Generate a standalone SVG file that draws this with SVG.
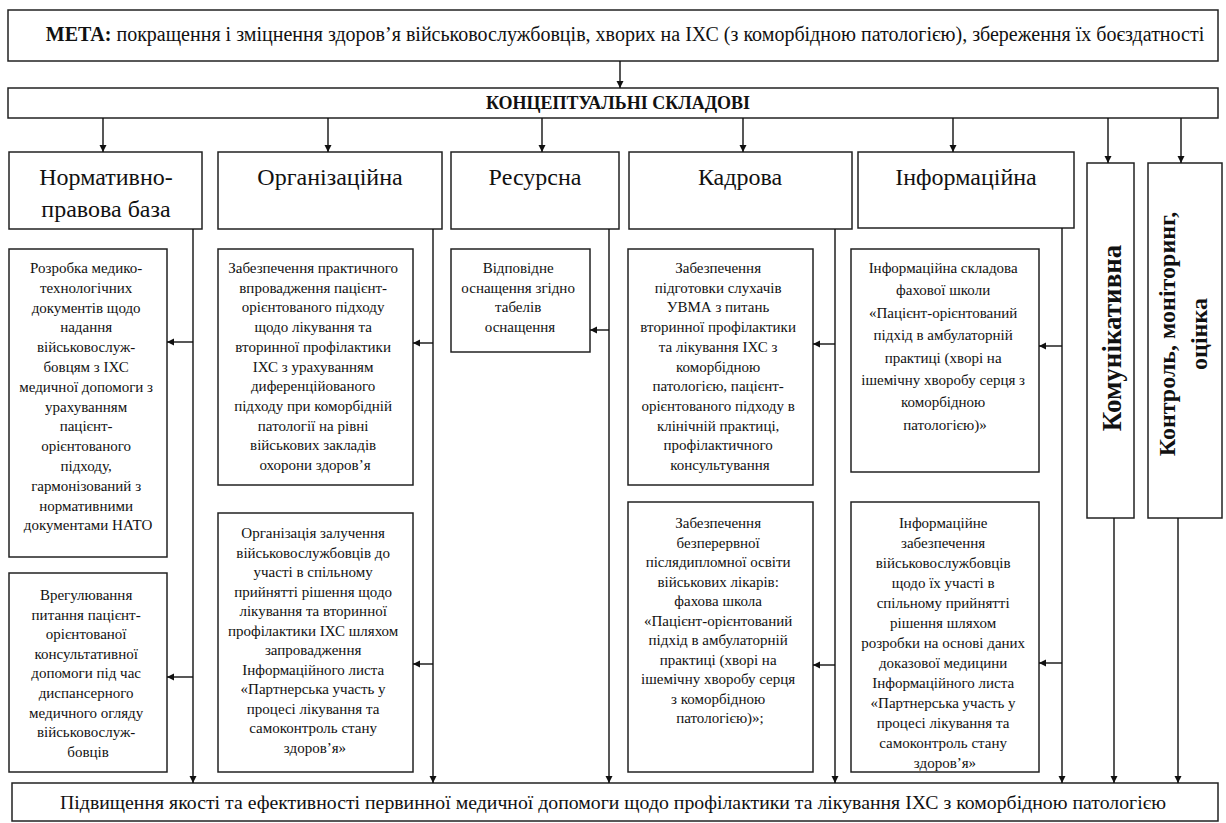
<svg xmlns="http://www.w3.org/2000/svg" width="1226" height="823" viewBox="0 0 1226 823" font-family="'Liberation Serif', 'DejaVu Serif', serif">
  <style>
    .box { fill: #ffffff; stroke: #222222; stroke-width: 1.5; }
    .link { fill: none; stroke: #111111; stroke-width: 1.4; marker-end: url(#arrow); }
    text { font-family: 'Liberation Serif', 'DejaVu Serif', serif; fill: #111111; }
    .goal { font-size: 20px; }
    .hdr { font-size: 18px; font-weight: bold; }
    .cat { font-size: 24px; }
    .vcat { font-size: 24px; font-weight: bold; }
    .vcat-lg { font-size: 27px; font-weight: bold; }
    .sub { font-size: 15px; }
    .res { font-size: 19.8px; }
  </style>
  <defs>
    <marker id="arrow" viewBox="0 0 10 10" refX="10" refY="5" markerWidth="7" markerHeight="8" markerUnits="userSpaceOnUse" orient="auto">
      <path d="M0,0 L10,5 L0,10 z" fill="#111111"/>
    </marker>
  </defs>

  <rect width="1226" height="823" fill="#ffffff"/>

  <!-- goal -->
  <g id="goal">
    <rect class="box" x="8" y="10" width="1210" height="51"/>
    <text class="goal" x="625" y="41" text-anchor="middle"><tspan font-weight="bold">МЕТА:</tspan> покращення і зміцнення здоров’я військовослужбовців, хворих на ІХС (з коморбідною патологією), збереження їх боєздатності</text>
  </g>

  <!-- conceptual components header -->
  <g id="components">
    <rect class="box" x="8" y="88" width="1210" height="30"/>
    <text class="hdr" x="618" y="109" text-anchor="middle">КОНЦЕПТУАЛЬНІ СКЛАДОВІ</text>
  </g>

  <!-- component categories -->
  <g id="cat-normative">
    <rect class="box" x="9" y="152" width="193" height="77"/>
    <text class="cat" text-anchor="middle"><tspan x="106" y="185">Нормативно-</tspan><tspan x="106" y="217">правова база</tspan></text>
  </g>
  <g id="cat-organizational">
    <rect class="box" x="218" y="152" width="224" height="77"/>
    <text class="cat" x="330" y="185" text-anchor="middle">Організаційна</text>
  </g>
  <g id="cat-resource">
    <rect class="box" x="451" y="152" width="168" height="77"/>
    <text class="cat" x="535" y="185" text-anchor="middle">Ресурсна</text>
  </g>
  <g id="cat-staff">
    <rect class="box" x="629" y="152" width="223" height="77"/>
    <text class="cat" x="740" y="185" text-anchor="middle">Кадрова</text>
  </g>
  <g id="cat-information">
    <rect class="box" x="858" y="152" width="216" height="76"/>
    <text class="cat" x="966" y="185" text-anchor="middle">Інформаційна</text>
  </g>
  <g id="cat-communication">
    <rect class="box" x="1087" y="163" width="47" height="355"/>
    <text class="vcat-lg" transform="translate(1121,338) rotate(-90)" text-anchor="middle">Комунікативна</text>
  </g>
  <g id="cat-control">
    <rect class="box" x="1148" y="163" width="74" height="355"/>
    <text class="vcat" transform="translate(1175,334) rotate(-90)" text-anchor="middle">Контроль, моніторинг,</text>
    <text class="vcat" transform="translate(1207,334) rotate(-90)" text-anchor="middle">оцінка</text>
  </g>

  <!-- activities -->
  <g id="normative-1">
    <rect class="box" x="9" y="249" width="158" height="308"/>
    <text class="sub" text-anchor="middle">
      <tspan x="88" y="273">Розробка медико-</tspan>
      <tspan x="88" dy="19.8">технологічних</tspan>
      <tspan x="88" dy="19.8">документів щодо</tspan>
      <tspan x="88" dy="19.8">надання</tspan>
      <tspan x="88" dy="19.8">військовослуж-</tspan>
      <tspan x="88" dy="19.8">бовцям з ІХС</tspan>
      <tspan x="88" dy="19.8">медичної допомоги з</tspan>
      <tspan x="88" dy="19.8">урахуванням</tspan>
      <tspan x="88" dy="19.8">пацієнт-</tspan>
      <tspan x="88" dy="19.8">орієнтованого</tspan>
      <tspan x="88" dy="19.8">підходу,</tspan>
      <tspan x="88" dy="19.8">гармонізований з</tspan>
      <tspan x="88" dy="19.8">нормативними</tspan>
      <tspan x="88" dy="19.8">документами НАТО</tspan>
    </text>
  </g>
  <g id="normative-2">
    <rect class="box" x="9" y="573" width="158" height="199"/>
    <text class="sub" text-anchor="middle">
      <tspan x="88" y="600">Врегулювання</tspan>
      <tspan x="88" dy="19.6">питання пацієнт-</tspan>
      <tspan x="88" dy="19.6">орієнтованої</tspan>
      <tspan x="88" dy="19.6">консультативної</tspan>
      <tspan x="88" dy="19.6">допомоги під час</tspan>
      <tspan x="88" dy="19.6">диспансерного</tspan>
      <tspan x="88" dy="19.6">медичного огляду</tspan>
      <tspan x="88" dy="19.6">військовослуж-</tspan>
      <tspan x="88" dy="19.6">бовців</tspan>
    </text>
  </g>
  <g id="organizational-1">
    <rect class="box" x="218" y="249" width="195" height="236"/>
    <text class="sub" text-anchor="middle">
      <tspan x="315" y="273">Забезпечення практичного</tspan>
      <tspan x="315" dy="19.7">впровадження  пацієнт-</tspan>
      <tspan x="315" dy="19.7">орієнтованого підходу</tspan>
      <tspan x="315" dy="19.7">щодо лікування та</tspan>
      <tspan x="315" dy="19.7">вторинної  профілактики</tspan>
      <tspan x="315" dy="19.7">ІХС з урахуванням</tspan>
      <tspan x="315" dy="19.7">диференційованого</tspan>
      <tspan x="315" dy="19.7">підходу при коморбідній</tspan>
      <tspan x="315" dy="19.7">патології на рівні</tspan>
      <tspan x="315" dy="19.7">військових закладів</tspan>
      <tspan x="315" dy="19.7">охорони здоров’я</tspan>
    </text>
  </g>
  <g id="organizational-2">
    <rect class="box" x="218" y="513" width="195" height="259"/>
    <text class="sub" text-anchor="middle">
      <tspan x="315" y="538">Організація залучення</tspan>
      <tspan x="315" dy="19.5">військовослужбовців до</tspan>
      <tspan x="315" dy="19.5">участі в спільному</tspan>
      <tspan x="315" dy="19.5">прийнятті рішення щодо</tspan>
      <tspan x="315" dy="19.5">лікування та вторинної</tspan>
      <tspan x="315" dy="19.5">профілактики ІХС шляхом</tspan>
      <tspan x="315" dy="19.5">запровадження</tspan>
      <tspan x="315" dy="19.5">Інформаційного листа</tspan>
      <tspan x="315" dy="19.5">«Партнерська участь у</tspan>
      <tspan x="315" dy="19.5">процесі лікування та</tspan>
      <tspan x="315" dy="19.5">самоконтроль стану</tspan>
      <tspan x="315" dy="19.5">здоров’я»</tspan>
    </text>
  </g>
  <g id="resource-1">
    <rect class="box" x="451" y="249" width="139" height="103"/>
    <text class="sub" text-anchor="middle">
      <tspan x="520" y="273">Відповідне</tspan>
      <tspan x="520" dy="19.7">оснащення згідно</tspan>
      <tspan x="520" dy="19.7">табелів</tspan>
      <tspan x="520" dy="19.7">оснащення</tspan>
    </text>
  </g>
  <g id="staff-1">
    <rect class="box" x="628" y="249" width="185" height="236"/>
    <text class="sub" text-anchor="middle">
      <tspan x="720" y="273">Забезпечення</tspan>
      <tspan x="720" dy="19.7">підготовки слухачів</tspan>
      <tspan x="720" dy="19.7">УВМА з питань</tspan>
      <tspan x="720" dy="19.7">вторинної профілактики</tspan>
      <tspan x="720" dy="19.7">та лікування ІХС з</tspan>
      <tspan x="720" dy="19.7">коморбідною</tspan>
      <tspan x="720" dy="19.7">патологією, пацієнт-</tspan>
      <tspan x="720" dy="19.7">орієнтованого підходу в</tspan>
      <tspan x="720" dy="19.7">клінічній практиці,</tspan>
      <tspan x="720" dy="19.7">профілактичного</tspan>
      <tspan x="720" dy="19.7">консультування</tspan>
    </text>
  </g>
  <g id="staff-2">
    <rect class="box" x="628" y="502" width="185" height="270"/>
    <text class="sub" text-anchor="middle">
      <tspan x="720" y="528">Забезпечення</tspan>
      <tspan x="720" dy="19.5">безперервної</tspan>
      <tspan x="720" dy="19.5">післядипломної освіти</tspan>
      <tspan x="720" dy="19.5">військових лікарів:</tspan>
      <tspan x="720" dy="19.5">фахова школа</tspan>
      <tspan x="720" dy="19.5">«Пацієнт-орієнтований</tspan>
      <tspan x="720" dy="19.5">підхід в амбулаторній</tspan>
      <tspan x="720" dy="19.5">практиці (хворі на</tspan>
      <tspan x="720" dy="19.5">ішемічну хворобу серця</tspan>
      <tspan x="720" dy="19.5">з коморбідною</tspan>
      <tspan x="720" dy="19.5">патологією)»;</tspan>
    </text>
  </g>
  <g id="information-1">
    <rect class="box" x="851" y="249" width="188" height="223"/>
    <text class="sub" text-anchor="middle">
      <tspan x="945" y="273">Інформаційна складова</tspan>
      <tspan x="945" dy="22.4">фахової школи</tspan>
      <tspan x="945" dy="22.4">«Пацієнт-орієнтований</tspan>
      <tspan x="945" dy="22.4">підхід в амбулаторній</tspan>
      <tspan x="945" dy="22.4">практиці (хворі на</tspan>
      <tspan x="945" dy="22.4">ішемічну хворобу серця з</tspan>
      <tspan x="945" dy="22.4">коморбідною</tspan>
      <tspan x="945" dy="22.4">патологією)»</tspan>
    </text>
  </g>
  <g id="information-2">
    <rect class="box" x="851" y="502" width="188" height="270"/>
    <text class="sub" text-anchor="middle">
      <tspan x="945" y="528">Інформаційне</tspan>
      <tspan x="945" dy="20">забезпечення</tspan>
      <tspan x="945" dy="20">військовослужбовців</tspan>
      <tspan x="945" dy="20">щодо їх участі в</tspan>
      <tspan x="945" dy="20">спільному прийнятті</tspan>
      <tspan x="945" dy="20">рішення шляхом</tspan>
      <tspan x="945" dy="20">розробки на основі даних</tspan>
      <tspan x="945" dy="20">доказової медицини</tspan>
      <tspan x="945" dy="20">Інформаційного листа</tspan>
      <tspan x="945" dy="20">«Партнерська участь у</tspan>
      <tspan x="945" dy="20">процесі лікування та</tspan>
      <tspan x="945" dy="20">самоконтроль стану</tspan>
      <tspan x="945" dy="20">здоров’я»</tspan>
    </text>
  </g>

  <!-- result -->
  <g id="result">
    <rect class="box" x="12" y="783" width="1206" height="38"/>
    <text class="res" x="613" y="809" text-anchor="middle">Підвищення якості та ефективності  первинної медичної допомоги щодо профілактики та лікування ІХС з коморбідною патологією</text>
  </g>

  <!-- connectors -->
  <g id="connectors">
    <line class="link" x1="620" y1="61" x2="620" y2="88"/>

    <line class="link" x1="103" y1="118" x2="103" y2="152"/>
    <line class="link" x1="328" y1="118" x2="328" y2="152"/>
    <line class="link" x1="542" y1="118" x2="542" y2="152"/>
    <line class="link" x1="743" y1="118" x2="743" y2="152"/>
    <line class="link" x1="953" y1="118" x2="953" y2="152"/>
    <line class="link" x1="1108" y1="118" x2="1108" y2="163"/>
    <line class="link" x1="1181" y1="118" x2="1181" y2="163"/>

    <line class="link" x1="193" y1="229" x2="193" y2="783"/>
    <line class="link" x1="433" y1="229" x2="433" y2="783"/>
    <line class="link" x1="609" y1="229" x2="609" y2="783"/>
    <line class="link" x1="835" y1="229" x2="835" y2="783"/>
    <line class="link" x1="1062" y1="228" x2="1062" y2="783"/>
    <line class="link" x1="1114" y1="518" x2="1114" y2="783"/>
    <line class="link" x1="1178" y1="518" x2="1178" y2="783"/>

    <line class="link" x1="193" y1="342" x2="167" y2="342"/>
    <line class="link" x1="193" y1="677" x2="167" y2="677"/>
    <line class="link" x1="433" y1="343" x2="413" y2="343"/>
    <line class="link" x1="433" y1="664" x2="413" y2="664"/>
    <line class="link" x1="609" y1="330" x2="590" y2="330"/>
    <line class="link" x1="835" y1="344" x2="813" y2="344"/>
    <line class="link" x1="835" y1="665" x2="813" y2="665"/>
    <line class="link" x1="1062" y1="346" x2="1039" y2="346"/>
    <line class="link" x1="1062" y1="663" x2="1039" y2="663"/>
  </g>
</svg>
